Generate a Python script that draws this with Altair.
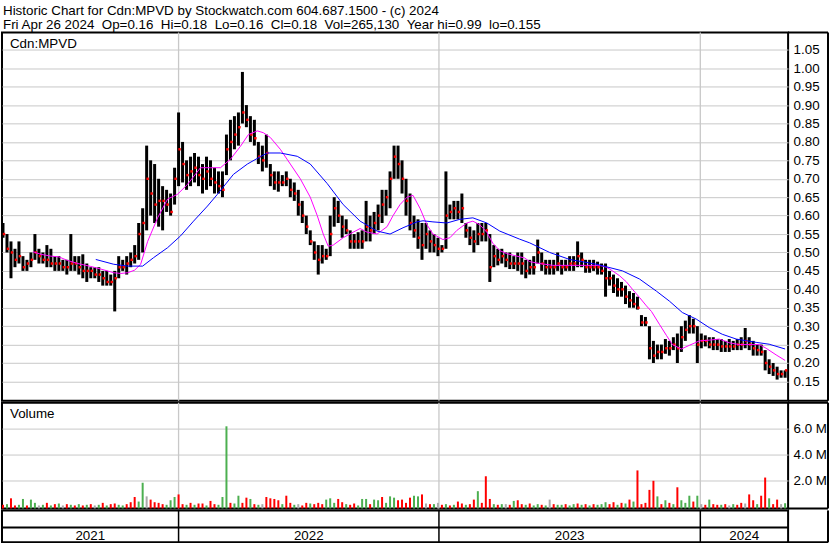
import altair as alt
import pandas as pd

FONT = "Liberation Sans"

HEADER_1 = "Historic Chart for Cdn:MPVD by Stockwatch.com 604.687.1500 - (c) 2024"
HEADER_2 = ("Fri Apr 26 2024 \u00a0Op=0.16 \u00a0Hi=0.18 \u00a0Lo=0.16 \u00a0Cl=0.18 "
            "\u00a0Vol=265,130 \u00a0Year hi=0.99 \u00a0lo=0.155")
SYMBOL = "Cdn:MPVD"

# Session bars, sampled every 4th trading session from the first shown session
STEP = 4
hi = [
    .58, .55, .53, .51, .53, .49, .48, .50, .55, .51,
    .50, .52, .51, .49, .49, .48, .48, .55, .49, .49,
    .495, .47, .46, .46, .46, .45, .45, .44, .45, .49,
    .48, .49, .50, .52, .58, .62, .79, .75, .74, .70,
    .68, .67, .66, .73, .88, .80, .75, .76, .77, .76,
    .74, .76, .75, .73, .72, .72, .82, .86, .87, .88,
    .99, .90, .87, .86, .80, .79, .82, .74, .72, .72,
    .71, .72, .70, .69, .67, .64, .60, .56, .53, .52,
    .52, .51, .60, .65, .64, .60, .59, .56, .55, .555,
    .56, .64, .60, .61, .63, .67, .67, .72, .79, .79,
    .75, .70, .66, .60, .59, .58, .58, .56, .55, .54,
    .52, .72, .63, .64, .64, .66, .58, .57, .56, .58,
    .58, .58, .55, .52, .51, .51, .50, .50, .49, .50,
    .50, .48, .48, .49, .535, .50, .48, .48, .48, .50,
    .48, .48, .49, .49, .53, .50, .48, .48, .48, .475,
    .47, .47, .45, .44, .43, .42, .41, .395, .39, .38,
    .33, .325, .30, .26, .25, .25, .265, .26, .27, .28,
    .30, .315, .33, .32, .30, .28, .275, .27, .27, .265,
    .265, .26, .265, .26, .265, .27, .295, .27, .26, .25,
    .25, .235, .21, .20, .19, .18, .18,
]
lo = [
    .54, .50, .43, .46, .47, .45, .45, .46, .48, .47,
    .47, .46, .46, .45, .45, .45, .44, .45, .45, .44,
    .43, .42, .43, .43, .42, .41, .41, .41, .34, .43,
    .45, .44, .46, .47, .48, .50, .56, .60, .58, .57,
    .56, .61, .60, .63, .68, .69, .67, .68, .69, .68,
    .66, .67, .68, .66, .66, .65, .71, .75, .78, .79,
    .85, .84, .80, .79, .74, .72, .73, .68, .67, .665,
    .68, .68, .65, .64, .60, .58, .55, .52, .48, .44,
    .47, .48, .49, .57, .58, .54, .55, .51, .51, .51,
    .51, .53, .53, .55, .56, .58, .60, .62, .70, .70,
    .66, .60, .56, .54, .51, .48, .51, .50, .50, .49,
    .50, .51, .59, .59, .59, .58, .54, .52, .50, .52,
    .53, .53, .42, .46, .465, .47, .46, .455, .455, .45,
    .44, .43, .44, .44, .47, .45, .44, .44, .44, .45,
    .44, .45, .45, .45, .46, .46, .445, .445, .45, .44,
    .44, .38, .41, .39, .38, .38, .36, .35, .35, .345,
    .30, .30, .21, .20, .21, .21, .225, .22, .235, .20,
    .23, .26, .28, .28, .20, .24, .245, .24, .235, .235,
    .23, .23, .23, .235, .235, .235, .24, .235, .22, .22,
    .22, .18, .17, .165, .155, .16, .16,
]
close = [
    .55, .51, .50, .48, .49, .46, .47, .48, .50, .49,
    .48, .48, .47, .47, .47, .46, .46, .47, .47, .46,
    .45, .45, .45, .44, .44, .43, .42, .42, .43, .46,
    .46, .47, .48, .49, .55, .58, .70, .66, .63, .64,
    .64, .63, .61, .70, .78, .74, .71, .72, .73, .71,
    .70, .72, .70, .69, .68, .67, .78, .80, .82, .84,
    .88, .86, .82, .81, .76, .75, .77, .71, .69, .69,
    .69, .70, .67, .66, .63, .60, .57, .53, .50, .48,
    .49, .49, .55, .62, .60, .57, .56, .53, .53, .53,
    .53, .57, .56, .58, .60, .63, .65, .70, .76, .74,
    .70, .64, .58, .56, .54, .52, .55, .53, .52, .51,
    .51, .60, .61, .62, .61, .62, .56, .54, .53, .55,
    .55, .56, .46, .49, .48, .49, .48, .47, .47, .47,
    .47, .45, .46, .46, .50, .47, .46, .46, .46, .47,
    .46, .46, .47, .47, .49, .48, .46, .46, .46, .46,
    .45, .43, .43, .41, .40, .40, .38, .37, .36, .35,
    .31, .31, .24, .22, .23, .23, .24, .24, .25, .24,
    .27, .29, .30, .30, .25, .26, .26, .25, .25, .25,
    .245, .245, .245, .245, .25, .25, .26, .25, .24, .235,
    .23, .20, .19, .18, .17, .17, .18,
]
# Volume in millions of shares
volume = [
    .15, .2, .65, .1, .15, .6, .1, .55, .3, .1,
    .15, .3, .1, .2, .25, .1, .2, .15, .1, .2,
    .1, .15, .2, .1, .15, .3, .1, .2, .25, .15,
    .1, .2, .35, .75, .4, 1.85, .8, .55, .35, .3,
    .2, .15, .5, .75, .95, .2, .15, .3, .15, .25,
    .25, .1, .45, .2, .15, .75, 6.2, .3, .25, .85,
    .3, .7, .6, .2, .15, .2, .75, .65, .6, .5,
    .2, .85, .3, .15, .2, .1, .3, .25, .2, .3,
    .2, .55, .65, .3, .6, .35, .2, .15, .25, .1,
    .6, .6, .2, .55, .5, .75, .3, .8, .7, .5,
    .55, .3, .7, .85, .8, .95, .25, .2, .2, .3,
    .15, .2, .1, .15, .4, .25, .15, .2, .55, 1.2,
    .3, 2.35, .6, .2, .15, .2, .2, .15, .45, .5,
    .2, .15, .25, .1, .2, .15, .1, .55, .2, .15,
    .15, .2, .1, .2, .25, .15, .2, .1, .2, .15,
    .2, .35, .2, .35, .15, .3, .25, .55, .4, 2.8,
    .2, .3, 1.3, 2.0, .8, .2, .5, .3, .2, 1.5,
    .5, .3, .85, .4, .85, .2, .15, .55, .2, .15,
    .15, .2, .1, .2, .15, .3, .25, .95, .5, .2,
    .85, 2.25, .65, .2, .55, .2, .27,
]
# Session direction for the volume colours: u = up, d = down, n = unchanged
volume_dir_rows = [
    "dudduuduun", "ududundudu", "dudnududdu", "uddduunddd", "duuuddudud",
    "dudduuuduu", "ddudundddd", "uddunddudd", "duuudduddu", "uuduuduuud",
    "ddduudndun", "dududduddu", "ddduduNdud", "duduudundu", "uduudududu",
    "uuddududud", "ddddududud", "uuudundudd", "udnuddnddu", "dduddnu",
]
volume_dir = "".join(volume_dir_rows).lower()

# Moving averages (session index, price)
ma_fast_day = [
    30, 38, 48, 56, 65, 75, 88, 98, 111, 118,
    125, 132, 138, 145, 155, 165, 175, 185, 198, 208,
    218, 228, 238, 246, 255, 261, 268, 278, 288, 298,
    308, 315, 321, 326, 331, 341, 351, 358, 365, 375,
    385, 391, 398, 405, 411, 418, 425, 431, 441, 448,
    455, 465, 471, 478, 485, 491, 498, 505, 515, 523,
    528, 538, 551, 568, 585, 598, 605, 611, 618, 625,
    631, 638, 645, 650, 658, 665, 671, 680, 688, 698,
    708, 718, 728, 738, 748, 758, 765, 775, 784,
]
ma_fast_val = [
    .502, .495, .490, .488, .478, .470, .462, .455, .445, .443,
    .445, .452, .468, .530, .594, .645, .658, .685, .730, .730,
    .730, .753, .788, .820, .830, .825, .812, .780, .740, .700,
    .650, .600, .550, .517, .520, .540, .555, .565, .555, .550,
    .570, .600, .630, .650, .655, .620, .575, .550, .535, .540,
    .560, .580, .585, .575, .555, .525, .505, .497, .490, .485,
    .475, .470, .465, .465, .465, .465, .460, .450, .437, .420,
    .400, .378, .355, .340, .305, .275, .250, .238, .248, .260,
    .262, .265, .255, .250, .250, .250, .240, .222, .207,
]
ma_slow_day = [
    93, 111, 125, 140, 151, 165, 178, 191, 205, 215,
    231, 245, 258, 265, 278, 295, 308, 325, 341, 358,
    375, 388, 401, 415, 421, 431, 445, 458, 471, 485,
    498, 518, 528, 548, 568, 595, 621, 638, 655, 668,
    681, 695, 708, 721, 735, 755, 768, 784,
]
ma_slow_val = [
    .481, .468, .463, .463, .486, .513, .545, .585, .626, .658,
    .712, .740, .760, .770, .770, .761, .740, .687, .630, .585,
    .558, .550, .567, .583, .586, .583, .580, .590, .594, .580,
    .558, .536, .526, .500, .481, .468, .450, .428, .395, .368,
    .337, .319, .296, .278, .265, .256, .251, .238,
]

# Calendar: first session of each new year, and the year names
year_start_day = [176, 437, 699]
year_names = ["2021", "2022", "2023", "2024"]

price_ticks = [0.15, 0.20, 0.25, 0.30, 0.35, 0.40, 0.45, 0.50, 0.55, 0.60,
               0.65, 0.70, 0.75, 0.80, 0.85, 0.90, 0.95, 1.00, 1.05]
volume_ticks = [2, 4, 6]

# ---------------------------------------------------------------- layout
W = 788            # plot width (sessions are 1 px apart)
COL = 40           # width of the right-hand label column
HEAD = 31          # room above the price panel for the two header lines
PRICE_H = 369
VOL_H = 106
BAND_H = 32
X_DOMAIN = [-1, 787]
GRID = "#c8c8c8"
FS = 13.4
UP, DOWN, FLAT = "#4caf50", "#ff0000", "#aaaaaa"

n = len(hi)
bars = pd.DataFrame({
    "day": [STEP * i for i in range(n)],
    "hi": hi, "lo": lo, "close": close, "vol": volume,
    "dir": list(volume_dir),
})
fast = pd.DataFrame({"day": ma_fast_day, "ma": ma_fast_val})
slow = pd.DataFrame({"day": ma_slow_day, "ma": ma_slow_val})
years = pd.DataFrame({"day": year_start_day})
edges = [X_DOMAIN[0]] + year_start_day + [X_DOMAIN[1]]
year_lbl = pd.DataFrame({
    "mid": [(edges[i] + edges[i + 1]) / 2 for i in range(len(year_names))],
    "year": year_names,
})
one = pd.DataFrame({"k": [0]})

x_enc = alt.X("day:Q", scale=alt.Scale(domain=X_DOMAIN, nice=False, zero=False), axis=None)
price_scale = alt.Scale(domain=[0.0977, 1.0968], nice=False, zero=False)
vol_scale = alt.Scale(domain=[-0.13, 8.02], nice=False, zero=False)

axis_common = dict(orient="right", title=None, ticks=False, tickSize=0, domain=False,
                   labelFont=FONT, labelFontSize=FS, labelColor="black",
                   labelPadding=5, labelFlush=False, labelOverlap=False,
                   gridColor=GRID, gridWidth=1)
price_axis = alt.Axis(values=price_ticks, format=".2f", **axis_common)


def py(field):
    """Price channel shared by every price layer."""
    return alt.Y(field, type="quantitative", scale=price_scale, axis=price_axis)


def right_column(h, top=True, bottom=True):
    """Outline of the label column at the right of a panel."""
    base = alt.Chart(one)
    parts = [base.mark_rule(color="black", strokeWidth=2).encode(
        x=alt.value(W + COL), y=alt.value(0), y2=alt.value(h))]
    if top:
        parts.append(base.mark_rule(color="black", strokeWidth=2).encode(
            x=alt.value(W), x2=alt.value(W + COL), y=alt.value(0)))
    if bottom:
        parts.append(base.mark_rule(color="black", strokeWidth=2).encode(
            x=alt.value(W), x2=alt.value(W + COL), y=alt.value(h)))
    return parts


def caption(text, x, y):
    return alt.Chart(pd.DataFrame({"t": [text]})).mark_text(
        align="left", baseline="alphabetic", font=FONT, fontSize=FS, color="black"
    ).encode(text="t:N", x=alt.value(x), y=alt.value(y))


# ---------------------------------------------------------------- price panel
year_grid = alt.Chart(years).mark_rule(color=GRID, strokeWidth=1.3).encode(x=x_enc)

hl_bars = alt.Chart(bars).mark_rule(color="black", strokeWidth=3).encode(
    x=x_enc, y=py("lo"), y2="hi:Q")
close_marks = alt.Chart(bars).mark_square(color="red", size=6, opacity=1, xOffset=1).encode(
    x=x_enc, y=py("close"))
fast_line = alt.Chart(fast).mark_line(color="#ff00ff", strokeWidth=1).encode(
    x=x_enc, y=py("ma"))
slow_line = alt.Chart(slow).mark_line(color="#0000ff", strokeWidth=1).encode(
    x=x_enc, y=py("ma"))
# white hairline marking the top edge of the page area
page_top = alt.Chart(one).mark_rule(color="white", strokeWidth=1).encode(
    x=alt.value(0), x2=alt.value(W), y=alt.value(-HEAD + 0.5))

price = alt.layer(
    year_grid, hl_bars, close_marks, fast_line, slow_line,
    caption(SYMBOL, 8, 15),
    caption(HEADER_1, 1, -18),
    caption(HEADER_2, 1, -4),
    page_top,
    *right_column(PRICE_H),
).properties(width=W, height=PRICE_H)

# ---------------------------------------------------------------- volume panel
vol_bars = alt.Chart(bars).mark_rule(strokeWidth=2).encode(
    x=x_enc,
    y=alt.Y("vol:Q", scale=vol_scale,
            axis=alt.Axis(values=volume_ticks,
                          labelExpr="format(datum.value, '.1f') + ' M'", **axis_common)),
    y2=alt.value(VOL_H),
    color=alt.Color("dir:N", scale=alt.Scale(domain=["u", "d", "n"], range=[UP, DOWN, FLAT]),
                    legend=None),
)
vol_panel = alt.layer(
    year_grid, vol_bars,
    caption("Volume", 8, 15),
    *right_column(VOL_H),
).properties(width=W, height=VOL_H)

# ---------------------------------------------------------------- calendar band
dividers = alt.Chart(years).mark_rule(color="black", strokeWidth=1.5).encode(x=x_enc)
mid_rule = alt.Chart(one).mark_rule(color="black", strokeWidth=2).encode(
    x=alt.value(0), x2=alt.value(W), y=alt.value(17))
year_text = alt.Chart(year_lbl).mark_text(
    align="center", baseline="alphabetic", font=FONT, fontSize=FS, color="black"
).encode(x=alt.X("mid:Q", scale=alt.Scale(domain=X_DOMAIN, nice=False, zero=False), axis=None),
         y=alt.value(30), text="year:N")
band = alt.layer(
    dividers, mid_rule, year_text, *right_column(BAND_H, top=False),
).properties(width=W, height=BAND_H)

chart = alt.vconcat(price, vol_panel, band, spacing=2, bounds="flush").properties(
    padding={"left": 0, "top": 0, "right": 0, "bottom": 0},
    background="white",
).configure_view(stroke="black", strokeWidth=2)

chart.save("out.html", embed_options={"renderer": "svg", "actions": False})
